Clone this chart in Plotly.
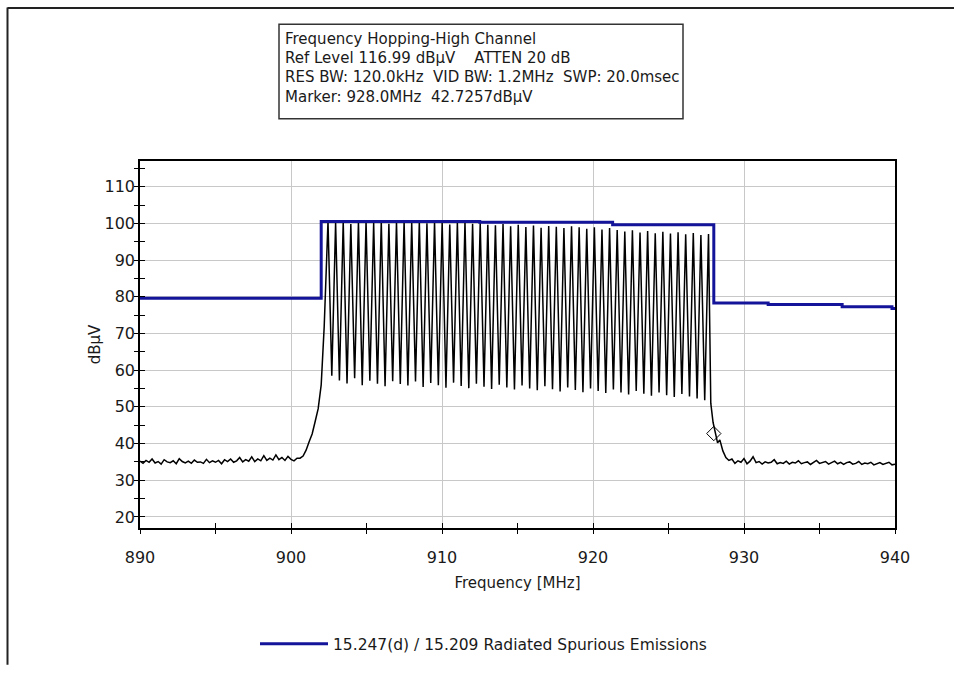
import numpy as np
import plotly.graph_objects as go

# ---------------- data ----------------
# noise floor below the band, sweep points every 0.2 MHz from 890.0 MHz
noise_left = [35.2, 34.6, 35.4, 34.9, 35.8, 34.7, 35.1, 34.4, 35.6, 35.0,
              34.8, 35.3, 34.5, 35.9, 35.1, 34.7, 35.2, 34.6, 35.5, 34.9,
              35.0, 34.6, 35.7, 34.8, 35.3, 34.9, 35.4, 34.5, 35.6, 35.1,
              35.8, 34.9, 35.3, 36.2, 35.0, 35.6, 35.2, 36.4, 35.1, 35.8,
              35.3, 36.7, 35.4, 36.0, 35.5, 36.9, 35.6, 36.2, 35.4, 36.5,
              35.7, 35.3, 36.0]
noise_left_f = np.linspace(890.0, 900.4, len(noise_left))

# rising edge of the hopping band
rise_f = [900.6, 900.8, 901.0, 901.2, 901.4, 901.6, 901.8, 902.0, 902.2]
rise_v = [36.0, 36.6, 38.2, 40.5, 42.6, 46.0, 49.5, 56.0, 72.0]

# hopping channels: peak levels (51 channels) and levels between channels
channel_f = np.linspace(902.45, 927.65, 51)
peaks = [100.6, 100.2, 100.5, 99.8, 100.4, 100.6, 100.1, 100.5, 99.9, 100.4,
         100.6, 100.2, 100.5, 100.0, 100.4, 100.3, 99.7, 100.2, 100.4, 99.9,
         100.1, 99.6,
         99.5, 99.8, 99.2, 99.6, 99.0, 99.4, 98.8, 99.3, 99.1, 98.7,
         99.2, 98.9, 98.5, 98.9, 98.3, 98.7,
         98.2, 97.8, 98.1, 97.5, 97.9, 97.3, 97.7, 97.2, 97.6, 97.0,
         97.4, 96.8, 97.1]
troughs = [58.5, 57.2, 56.4, 57.8, 55.9, 57.1, 56.3, 55.6, 57.0, 56.2,
           55.8, 56.9, 55.4, 56.5, 55.9, 55.2, 56.6, 55.7, 55.1, 56.3,
           55.5, 54.9, 56.0, 55.3, 54.7, 55.8, 55.0, 54.5, 55.6, 54.8,
           54.2, 55.3, 54.6, 54.0, 55.0, 54.3, 53.8, 54.7, 53.9, 53.4,
           54.3, 53.6, 53.0, 53.9, 53.2, 52.7, 53.5, 52.8, 52.3, 51.8]
trough_f = channel_f[:-1] + (channel_f[1] - channel_f[0]) / 2

# falling edge
fall_f = [927.8, 927.95, 928.1, 928.25, 928.4, 928.6, 928.8, 929.0]
fall_v = [51.0, 45.8, 42.5, 40.2, 41.0, 38.0, 36.2, 35.4]

# noise floor above the band, sweep points every 0.2 MHz up to 940 MHz
noise_right = [35.8, 34.6, 35.3, 34.9, 35.9, 34.5, 35.2, 36.4, 34.8, 35.1,
               34.4, 35.0, 34.7, 34.9, 35.6, 34.5, 34.8, 34.6, 35.2, 34.4,
               34.9, 34.7, 35.3, 34.5, 34.8, 35.0, 34.3, 34.9, 35.4, 34.6,
               34.8, 35.1, 34.4, 34.7, 35.2, 34.5, 34.9, 34.3, 34.8, 35.0,
               34.4, 34.6, 35.1, 34.3, 34.7, 34.5, 34.9, 34.2, 34.6, 34.8,
               34.3, 34.5, 34.9, 34.2, 34.4]
noise_right_f = np.linspace(929.2, 940.0, len(noise_right))

# limit line (15.247(d) / 15.209)
limit_f = [890.0, 902.0, 912.5, 921.3, 928.0, 931.6, 936.5, 939.8, 940.0]
limit_v = [79.6, 100.5, 100.3, 99.6, 78.3, 77.9, 77.3, 76.8, 76.8]

# marker
marker_f = [928.0]
marker_v = [42.7257]

header_lines = [
    "Frequency Hopping-High Channel",
    "Ref Level 116.99 dBµV    ATTEN 20 dB",
    "RES BW: 120.0kHz  VID BW: 1.2MHz  SWP: 20.0msec",
    "Marker: 928.0MHz  42.7257dBµV",
]
legend_name = "15.247(d) / 15.209 Radiated Spurious Emissions"

# ---------------- assemble measured trace ----------------
hop_f, hop_v = [], []
for i in range(len(channel_f)):
    hop_f.append(channel_f[i]); hop_v.append(peaks[i])
    if i < len(troughs):
        hop_f.append(trough_f[i]); hop_v.append(troughs[i])

trace_f = list(noise_left_f) + rise_f + hop_f + fall_f + list(noise_right_f)
trace_v = noise_left + rise_v + hop_v + fall_v + noise_right

FONT = "DejaVu Sans, Verdana, sans-serif"
TXT = "#1a1a1a"
X_RANGE = [890, 940]
Y_RANGE = [16.99, 116.99]

fig = go.Figure()
fig.add_trace(go.Scatter(x=trace_f, y=trace_v, mode="lines",
                         line=dict(color="#000000", width=1.5),
                         showlegend=False, hoverinfo="skip"))
fig.add_trace(go.Scatter(x=limit_f, y=limit_v, mode="lines",
                         line=dict(color="#14149a", width=3, shape="hv"),
                         name=legend_name, showlegend=True))
# marker drawn on the overlay axes (identical ranges) so they get rendered
fig.add_trace(go.Scatter(x=marker_f, y=marker_v, mode="markers",
                         xaxis="x2", yaxis="y2",
                         marker=dict(symbol="diamond-open", size=11,
                                     color="#000000", line=dict(width=1)),
                         showlegend=False))

# plot area geometry in px
L, R, T, B = 140, 895, 161, 534
W, H = 954, 673
pw, ph = R - L, B - T
def px(x):
    return (x - L) / pw
def py(y):
    return (B - y) / ph

# main axes: ticks inside (labels sit next to the axis line);
# overlay axes add the outside half so ticks cross the axis line
axis_common = dict(showline=True, linecolor="#000000", linewidth=1.5,
                   mirror=True, zeroline=False, ticks="inside", ticklen=5,
                   tickwidth=1, tickcolor="#000000",
                   gridcolor="#c8c8c8", gridwidth=1,
                   tickfont=dict(family=FONT, size=16, color=TXT))
overlay_common = dict(ticks="outside", ticklen=5, tickwidth=1,
                      tickcolor="#000000",
                      showticklabels=False, showgrid=False, showline=False,
                      zeroline=False)

fig.update_layout(
    width=W, height=H,
    margin=dict(l=L, r=W - R, t=T, b=H - B),
    paper_bgcolor="white", plot_bgcolor="white",
    font=dict(family=FONT, size=15, color=TXT),
    xaxis=dict(range=X_RANGE, tickmode="linear", tick0=890, dtick=10,
               minor=dict(dtick=5, ticks="inside", ticklen=5,
                          tickcolor="#000000", showgrid=False),
               ticklabelstandoff=14,
               title=dict(text="Frequency [MHz]", standoff=12,
                          font=dict(family=FONT, size=15, color=TXT)),
               **axis_common),
    yaxis=dict(range=Y_RANGE, tickmode="linear", tick0=20, dtick=10,
               minor=dict(dtick=5, ticks="inside", ticklen=5,
                          tickcolor="#000000", showgrid=False),
               ticklabelstandoff=0,
               title=dict(text="dBµV", standoff=0,
                          font=dict(family=FONT, size=15, color=TXT)),
               **axis_common),
    xaxis2=dict(overlaying="x", anchor="y2", side="bottom", range=X_RANGE,
                tickmode="linear", tick0=890, dtick=10,
                minor=dict(dtick=5, ticks="outside", ticklen=5,
                           tickcolor="#000000", showgrid=False),
                **overlay_common),
    yaxis2=dict(overlaying="y", anchor="x2", side="left", range=Y_RANGE,
                tickmode="linear", tick0=20, dtick=10,
                minor=dict(dtick=5, ticks="outside", ticklen=5,
                           tickcolor="#000000", showgrid=False),
                **overlay_common),
    legend=dict(orientation="h", x=px(255), y=py(652), xanchor="left",
                yanchor="middle", bgcolor="rgba(0,0,0,0)",
                itemwidth=68,
                font=dict(family=FONT, size=15.5, color=TXT)),
)

# outer window frame
fig.add_shape(type="line", xref="paper", yref="paper",
              x0=px(7.5), x1=px(7.5), y0=py(5), y1=py(H),
              line=dict(color="#222222", width=2))
fig.add_shape(type="line", xref="paper", yref="paper",
              x0=px(7.5), x1=px(W), y0=py(5.5), y1=py(5.5),
              line=dict(color="#222222", width=2))

# header box
fig.add_shape(type="rect", xref="paper", yref="paper",
              x0=px(279), x1=px(683), y0=py(118), y1=py(22),
              line=dict(color="#333333", width=1.5), fillcolor="white")
for txt, yc in zip(header_lines, [37, 56, 76, 96]):
    fig.add_annotation(xref="paper", yref="paper", x=px(283), y=py(yc),
                       xanchor="left", yanchor="middle", showarrow=False,
                       text=txt, font=dict(family=FONT, size=15, color=TXT))

fig.write_html("out.html")
